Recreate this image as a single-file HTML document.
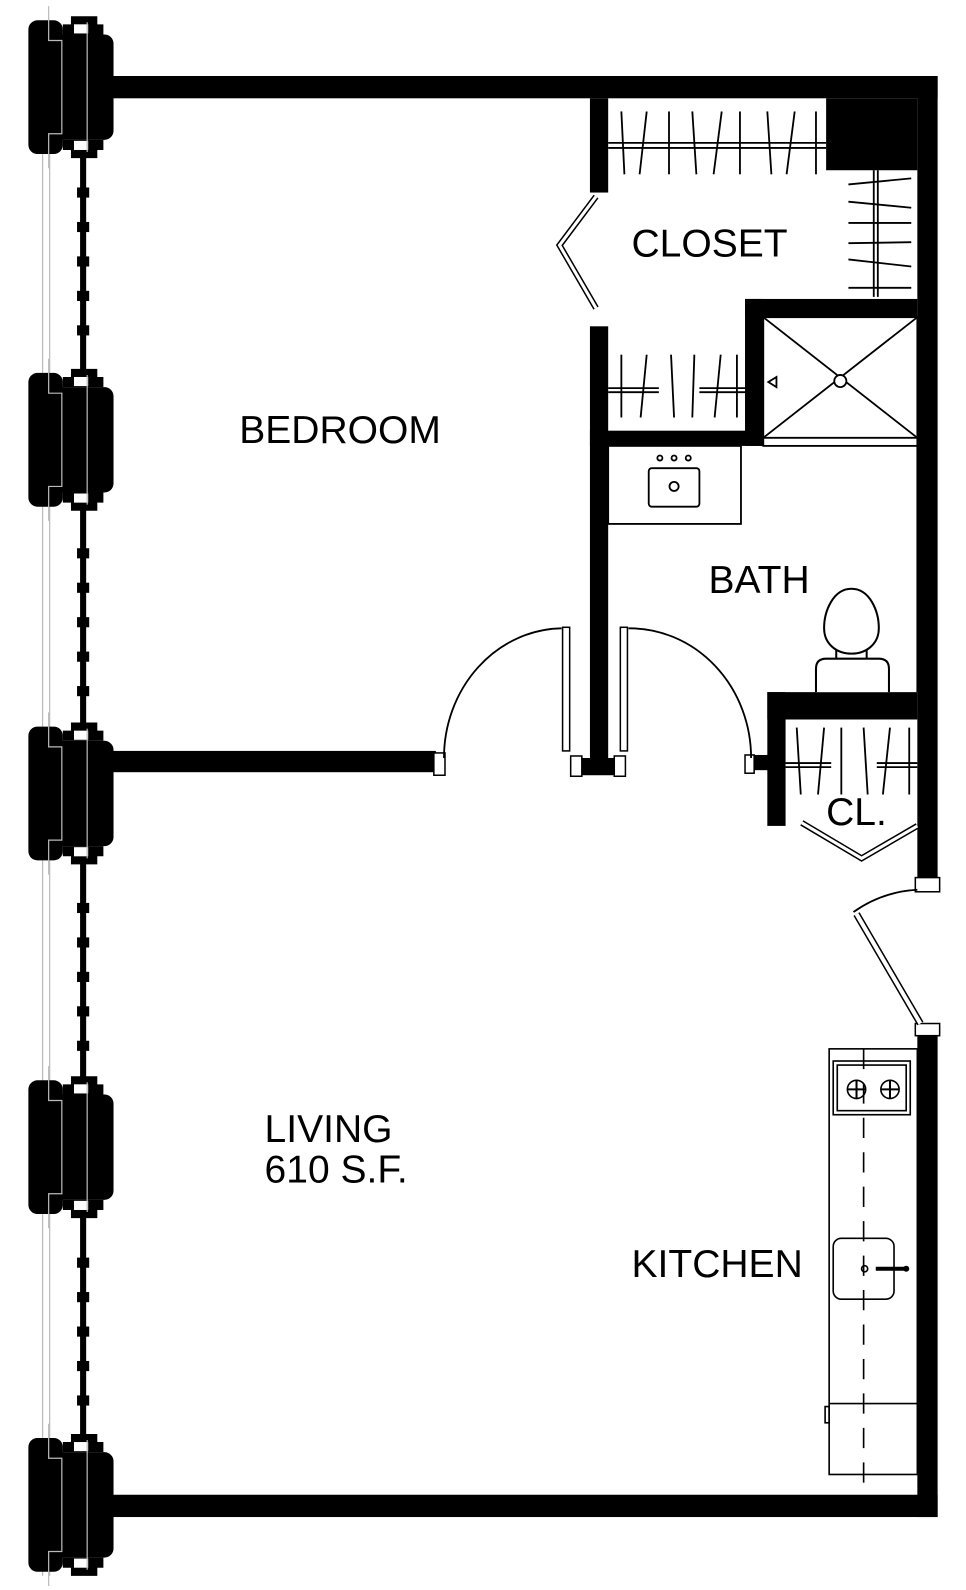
<!DOCTYPE html>
<html><head><meta charset="utf-8"><style>
html,body{margin:0;padding:0;background:#fff;}
svg{display:block;}
text{font-family:"Liberation Sans",sans-serif;fill:#000;}
</style></head><body>
<svg width="966" height="1590" viewBox="0 0 953 1569" preserveAspectRatio="none" xmlns="http://www.w3.org/2000/svg">
<defs>
<g id="col">
  <rect x="28" y="-66" width="34" height="132" rx="9" fill="#000"/>
  <rect x="52" y="-52" width="60" height="104" rx="9" fill="#000"/>
  <path d="M62 -52 L62 -62 L70 -62 L70 -70 L96 -70 L96 -62 L102 -62 L102 -52 Z" fill="#000"/>
  <path d="M62 52 L62 62 L70 62 L70 70 L96 70 L96 62 L102 62 L102 52 Z" fill="#000"/>
  <rect x="73" y="-62" width="14" height="9" fill="#fff"/>
  <rect x="73" y="53" width="14" height="9" fill="#fff"/>
  <path d="M48 -80 V-46 H61 V46 H48 V80" fill="none" stroke="#bbb" stroke-width="1.2"/>
  <line x1="86" y1="-64" x2="86" y2="64" stroke="#bbb" stroke-width="1.2"/>
</g>
<g id="sq"><rect x="-6" y="-5" width="12" height="10" fill="#000"/></g>
</defs>

<line x1="42" y1="20" x2="42" y2="1555" stroke="#bbb" stroke-width="1.2"/>
<line x1="49" y1="20" x2="49" y2="1555" stroke="#bbb" stroke-width="1.2"/>

<g stroke="#000" stroke-width="6">
<line x1="82" y1="150" x2="82" y2="370"/>
<line x1="82" y1="500" x2="82" y2="720"/>
<line x1="82" y1="850" x2="82" y2="1070"/>
<line x1="82" y1="1200" x2="82" y2="1420"/>
</g>
<g>
<use href="#sq" x="82" y="190"/><use href="#sq" x="82" y="224"/><use href="#sq" x="82" y="258"/><use href="#sq" x="82" y="292"/><use href="#sq" x="82" y="326"/>
<use href="#sq" x="82" y="546"/><use href="#sq" x="82" y="580"/><use href="#sq" x="82" y="614"/><use href="#sq" x="82" y="648"/><use href="#sq" x="82" y="682"/>
<use href="#sq" x="82" y="896"/><use href="#sq" x="82" y="930"/><use href="#sq" x="82" y="964"/><use href="#sq" x="82" y="998"/><use href="#sq" x="82" y="1032"/>
<use href="#sq" x="82" y="1246"/><use href="#sq" x="82" y="1280"/><use href="#sq" x="82" y="1314"/><use href="#sq" x="82" y="1348"/><use href="#sq" x="82" y="1382"/>
</g>

<use href="#col" x="0" y="86"/>
<use href="#col" x="0" y="434"/>
<use href="#col" x="0" y="783"/>
<use href="#col" x="0" y="1132"/>
<use href="#col" x="0" y="1485"/>

<g fill="#000">
<rect x="108" y="75" width="817" height="22"/>
<rect x="905" y="75" width="20" height="805"/>
<rect x="905" y="1015" width="20" height="482"/>
<rect x="105" y="1475" width="820" height="22"/>
<rect x="108" y="741" width="322" height="21"/>
<rect x="582" y="97" width="18" height="93"/>
<rect x="582" y="322" width="18" height="435"/>
<rect x="568" y="748" width="44" height="17"/>
<rect x="815" y="97" width="90" height="71"/>
<rect x="735" y="295" width="170" height="18"/>
<rect x="735" y="295" width="18" height="145"/>
<rect x="582" y="425" width="171" height="15"/>
<rect x="757" y="683" width="148" height="27"/>
<rect x="757" y="683" width="18" height="132"/>
<rect x="740" y="745" width="20" height="15"/>
</g>
<g fill="#fff" stroke="#000" stroke-width="1.5">
<rect x="428" y="743" width="11" height="22"/>
<rect x="563" y="746" width="11" height="20"/>
<rect x="606" y="746" width="11" height="20"/>
<rect x="735" y="745" width="9" height="18"/>
<rect x="903" y="866" width="24" height="14"/>
<rect x="903" y="1010" width="24" height="12"/>
</g>

<g fill="none" stroke="#000" stroke-width="1.8">
<path d="M438 748 A118 128 0 0 1 554 620"/>
<path d="M620 620 A120 128 0 0 1 741 748"/>
<path d="M842 900 Q870 880 905 878"/>
</g>
<g fill="#fff" stroke="#000" stroke-width="1.5">
<rect x="555" y="619" width="7" height="122"/>
<rect x="612" y="619" width="7" height="122"/>
</g>
<g stroke-linecap="butt" fill="none">
<polyline points="588,194 552,242 588,304" stroke="#000" stroke-width="6"/>
<polyline points="588,194 552,242 588,304" stroke="#fff" stroke-width="3"/>
<polyline points="791,812 850,847 905,815" stroke="#000" stroke-width="6"/>
<polyline points="791,812 850,847 905,815" stroke="#fff" stroke-width="3"/>
<line x1="845" y1="902" x2="908" y2="1010" stroke="#000" stroke-width="7"/>
<line x1="845" y1="902" x2="908" y2="1010" stroke="#fff" stroke-width="4"/>
</g>

<g stroke="#000" stroke-width="1.8">
<line x1="600" y1="141" x2="815" y2="141"/><line x1="600" y1="146" x2="815" y2="146"/>
<line x1="613" y1="110" x2="616" y2="172"/><line x1="638" y1="110" x2="631" y2="172"/>
<line x1="660" y1="110" x2="660" y2="172"/><line x1="683" y1="110" x2="687" y2="172"/>
<line x1="712" y1="110" x2="704" y2="172"/><line x1="730" y1="110" x2="730" y2="172"/>
<line x1="757" y1="110" x2="761" y2="172"/><line x1="784" y1="110" x2="776" y2="172"/>
<line x1="805" y1="110" x2="805" y2="172"/>
<line x1="862" y1="168" x2="862" y2="293"/><line x1="866" y1="168" x2="866" y2="293"/>
<line x1="837" y1="182" x2="899" y2="176"/><line x1="837" y1="199" x2="899" y2="205"/>
<line x1="837" y1="220" x2="899" y2="220"/><line x1="837" y1="240" x2="899" y2="239"/>
<line x1="837" y1="256" x2="899" y2="263"/><line x1="837" y1="284" x2="899" y2="284"/>
<line x1="600" y1="383" x2="650" y2="383"/><line x1="600" y1="387" x2="650" y2="387"/>
<line x1="690" y1="383" x2="735" y2="383"/><line x1="690" y1="387" x2="735" y2="387"/>
<line x1="613" y1="350" x2="613" y2="412"/><line x1="638" y1="350" x2="632" y2="412"/>
<line x1="662" y1="350" x2="665" y2="412"/><line x1="685" y1="350" x2="683" y2="412"/>
<line x1="711" y1="350" x2="705" y2="412"/><line x1="727" y1="350" x2="727" y2="412"/>
<line x1="775" y1="753" x2="820" y2="753"/><line x1="775" y1="757" x2="820" y2="757"/>
<line x1="865" y1="753" x2="905" y2="753"/><line x1="865" y1="757" x2="905" y2="757"/>
<line x1="786" y1="718" x2="790" y2="784"/><line x1="813" y1="718" x2="807" y2="784"/>
<line x1="830" y1="718" x2="830" y2="784"/><line x1="852" y1="718" x2="856" y2="784"/>
<line x1="878" y1="718" x2="871" y2="784"/><line x1="897" y1="718" x2="897" y2="784"/>
</g>

<g fill="none" stroke="#000" stroke-width="1.8">
<rect x="753" y="313" width="152" height="127"/>
<line x1="753" y1="432" x2="905" y2="432"/>
<line x1="753" y1="313" x2="905" y2="432"/>
<line x1="905" y1="313" x2="753" y2="432"/>
<path d="M758 377 L766 372 L766 382 Z"/>
</g>
<circle cx="829" cy="376" r="6" fill="#fff" stroke="#000" stroke-width="1.8"/>

<g fill="none" stroke="#000" stroke-width="1.8">
<rect x="600" y="440" width="131" height="77"/>
<rect x="640" y="462" width="50" height="38" rx="3"/>
<circle cx="665" cy="480" r="4.5"/>
<circle cx="651" cy="452" r="2.5"/><circle cx="665" cy="452" r="2.5"/><circle cx="679" cy="452" r="2.5"/>
<line x1="905" y1="440" x2="905" y2="683"/>
</g>
<g fill="#fff" stroke="#000" stroke-width="2">
<rect x="825" y="640" width="30" height="15"/>
<path d="M840 581 C822 581 813 603 813 620 C813 636 826 645 840 645 C854 645 867 636 867 620 C867 603 858 581 840 581 Z"/>
<path d="M805 683 L805 660 Q805 650 815 650 L867 650 Q877 650 877 660 L877 683"/>
</g>

<g fill="none" stroke="#000" stroke-width="1.6">
<rect x="818" y="1035" width="87" height="420"/>
<rect x="822" y="1047" width="76" height="53"/>
<rect x="826" y="1051" width="68" height="45"/>
<circle cx="845" cy="1075" r="9"/><circle cx="878" cy="1075" r="9"/>
<rect x="822" y="1222" width="60" height="60" rx="8"/>
<circle cx="853" cy="1252" r="3"/>
<line x1="818" y1="1385" x2="905" y2="1385"/>
<rect x="814" y="1388" width="4" height="16"/>
</g>
<g stroke="#000" stroke-width="2">
<line x1="836" y1="1075" x2="854" y2="1075"/><line x1="845" y1="1066" x2="845" y2="1084"/>
<line x1="869" y1="1075" x2="887" y2="1075"/><line x1="878" y1="1066" x2="878" y2="1084"/>
<line x1="864" y1="1252" x2="893" y2="1252" stroke-width="4"/>
<line x1="852" y1="1035" x2="852" y2="1475" stroke-width="1.6" stroke-dasharray="20,14"/>
</g>
<circle cx="894" cy="1252" r="3" fill="#000"/>

<g font-size="38.5">
<text x="236" y="437">BEDROOM</text>
<text x="623" y="253">CLOSET</text>
<text x="699" y="585">BATH</text>
<text x="815" y="814">CL.</text>
<text x="261" y="1127">LIVING</text>
<text x="261" y="1167">610 S.F.</text>
<text x="623" y="1260">KITCHEN</text>
</g>
</svg>
</body></html>
